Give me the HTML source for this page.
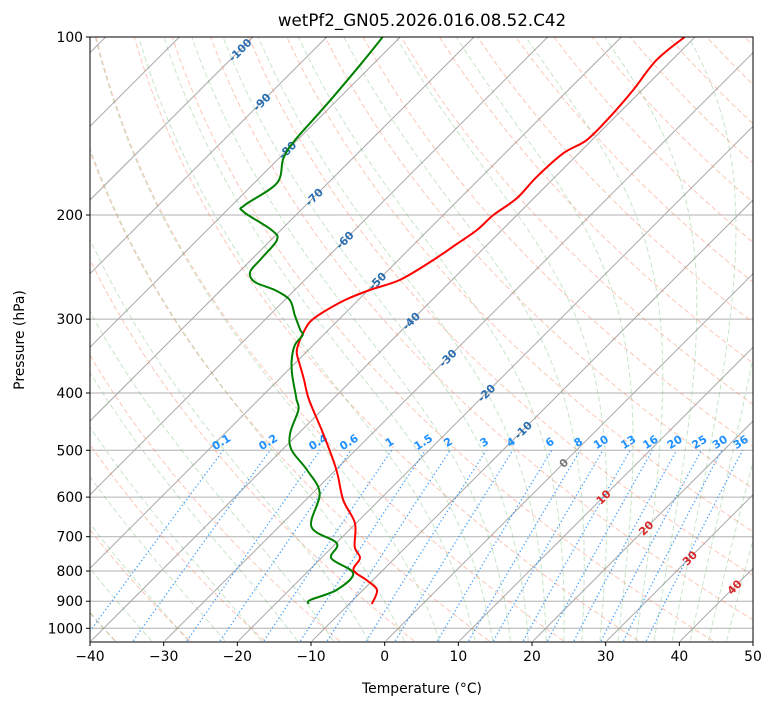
<!DOCTYPE html>
<html><head><meta charset="utf-8"><style>
body{margin:0;background:#fff;}
svg text{font-family:"DejaVu Sans","Liberation Sans",sans-serif;}
</style></head><body>
<svg id="chart" width="775" height="708" xmlns="http://www.w3.org/2000/svg">
<defs><clipPath id="plotclip"><rect x="90" y="37" width="663" height="605"/></clipPath></defs>
<text x="422" y="26" font-size="16.7" text-anchor="middle">wetPf2_GN05.2026.016.08.52.C42</text>
<g id="bg" clip-path="url(#plotclip)"></g>
<g id="fg"></g>
<text x="422" y="693" font-size="13.9" text-anchor="middle">Temperature (°C)</text>
<text transform="translate(24,340) rotate(-90)" font-size="13.9" text-anchor="middle">Pressure (hPa)</text>
</svg>
<script>
const tempPressure=[909.7,861.4,828.5,796.9,760.5,727.8,663.6,606.8,539.8,467.9,411.1,380.3,358.7,341.0,325.4,313.0,303.4,292.9,278.5,267.8,257.6,240.2,224.8,212.0,200.0,187.4,172.3,157.3,149.3,136.4,122.9,109.4,100];
const tempValues=[-6.9,-8.1,-10.9,-14.0,-14.75,-17.0,-20.2,-24.9,-29.9,-36.7,-43.1,-46.5,-49.1,-51.3,-52.5,-53.2,-53.6,-53.2,-51.8,-49.8,-47.1,-45.4,-44.3,-43.4,-43.2,-42.3,-42.5,-42.1,-40.7,-40.7,-41.2,-42.1,-41.4];
const dewPressure=[909.7,895.7,861.4,807.2,761.4,718.2,673.2,591.2,539.8,499.4,467.4,427.4,411.1,403.1,372.9,351.8,331.8,319.1,313.0,295.2,278.5,267.8,259.6,249.7,236.5,220.4,212.0,197.4,192.4,176.8,160.4,149.3,131.2,110.8,100];
const dewValues=[-15.5,-15.8,-13.6,-13.6,-18.6,-19.9,-25.6,-29.0,-33.9,-38.7,-41.2,-43.2,-44.8,-45.6,-48.8,-50.9,-52.5,-52.8,-53.8,-56.6,-59.3,-62.7,-66.5,-68.5,-68.8,-69.2,-71.3,-77.6,-78.3,-76.9,-79.4,-80.3,-80.8,-81.7,-82.4];
const xTicks=[-40,-30,-20,-10,0,10,20,30,40,50];
const yTicks=[100,200,300,400,500,600,700,800,900,1000];
const mixingRatios=[0.1,0.2,0.4,0.6,1,1.5,2,3,4,6,8,10,13,16,20,25,30,36];
const isothermLabels=[-100,-90,-80,-70,-60,-50,-40,-30,-20,-10,0,10,20,30,40];
const isothermLabelY=[50,102,150,197,240,281,321,358,393,430,463,497,528,558,587];

const NS="http://www.w3.org/2000/svg";
const L=90,R=753,TOP=37,BOT=642,TMIN=-40,PX=(R-L)/90,K=256.8;
function Y(p){return TOP+K*Math.log(p/100);}
function X(t,p){return L+(t-TMIN)*PX+(BOT-Y(p));}
function mk(tag,attrs,parent){const e=document.createElementNS(NS,tag);for(const k in attrs)e.setAttribute(k,attrs[k]);parent.appendChild(e);return e;}
const bg=document.getElementById('bg'),fg=document.getElementById('fg');
function pts(arrP,arrT){return arrP.map((p,i)=>X(arrT[i],p).toFixed(1)+','+Y(p).toFixed(1)).join(' ');}
function smoothPath(arrP,arrT){const P=arrP.map((p,i)=>[X(arrT[i],p),Y(p)]);let d='M'+P[0][0].toFixed(1)+','+P[0][1].toFixed(1);
for(let i=0;i<P.length-1;i++){const p0=P[i-1]||P[i],p1=P[i],p2=P[i+1],p3=P[i+2]||p2;
const c1=[p1[0]+(p2[0]-p0[0])/6,p1[1]+(p2[1]-p0[1])/6],c2=[p2[0]-(p3[0]-p1[0])/6,p2[1]-(p3[1]-p1[1])/6];
d+=' C'+c1[0].toFixed(1)+','+c1[1].toFixed(1)+' '+c2[0].toFixed(1)+','+c2[1].toFixed(1)+' '+p2[0].toFixed(1)+','+p2[1].toFixed(1);}return d;}
yTicks.forEach(p=>{const l=mk('line',{x1:L,x2:R,y1:Y(p),y2:Y(p),stroke:'#b0b0b0','stroke-width':1},bg);

});
for(let t=-130;t<=50;t+=10){const l=mk('line',{x1:X(t,1050),y1:Y(1050),x2:X(t,100),y2:Y(100),stroke:'#a8a8a8','stroke-width':1},bg);

}
for(let t0=-40;t0<=200;t0+=10){const th=t0+273.15;const P=[],T=[];for(let p=1050;p>=100;p-=10){P.push(p);T.push(th*Math.pow(p/1000,0.2857)-273.15);}
const l=mk('polyline',{points:pts(P,T),fill:'none',stroke:'#fa8060','stroke-opacity':0.45,'stroke-width':1,'stroke-dasharray':'5,3'},bg);

}
function es(tc){return 6.112*Math.exp(17.67*tc/(tc+243.5));}
function dTdp(T,p){const e=es(T-273.15);const rs=0.622*e/Math.max(p-e,1e-3);return (287.04*T+2.501e6*rs)/(1005.7+2.501e6*2.501e6*rs*0.622/(287.04*T*T))/p;}
function integ(T0,p0,p1,dp){const P=[p0],T=[T0];let T_=T0,p=p0;while((dp<0&&p>p1)||(dp>0&&p<p1)){const k1=dTdp(T_,p);const k2=dTdp(T_+k1*dp,p+dp);T_+=0.5*(k1+k2)*dp;p+=dp;P.push(p);T.push(T_);}return [P,T];}
const moistStarts=[];for(let t=-50;t<=10.01;t+=5)moistStarts.push(t);for(let t=12.5;t<=45.01;t+=2.5)moistStarts.push(t);
moistStarts.forEach(t0=>{const up=integ(t0+273.15,1000,100,-5),dn=integ(t0+273.15,1000,1050,5);
const P=dn[0].slice().reverse().concat(up[0].slice(1)),T=dn[1].slice().reverse().concat(up[1].slice(1)).map(v=>v-273.15);
const l=mk('polyline',{points:pts(P,T),fill:'none',stroke:'#4aa84a','stroke-opacity':0.3,'stroke-width':1,'stroke-dasharray':'5,3'},bg);

});
function tdFromW(w,p){const e=w*p/(622+w);const a=Math.log(e/6.112);return 243.5*a/(17.67-a);}
mixingRatios.forEach(w=>{const P=[],T=[];for(let p=1050;p>=500;p-=10){P.push(p);T.push(tdFromW(w,p));}
const l=mk('polyline',{points:pts(P,T),fill:'none',stroke:'#1e90ff','stroke-opacity':0.85,'stroke-width':1.3,'stroke-dasharray':'1.3,2.5'},bg);


const x=X(tdFromW(w,500),500),y=Y(500)-5;
const t=mk('text',{x:x,y:y,'font-size':11,'font-weight':'bold',fill:'#1e90ff','text-anchor':'middle',transform:`rotate(-32 ${x} ${y})`},bg);
t.textContent=String(w);

});
isothermLabels.forEach((tv,i)=>{const y=isothermLabelY[i];const p=100*Math.exp((y-TOP)/K);const x=X(tv,p);
const col=tv<0?'#2a6eb0':(tv===0?'#777':'#d62728');
const t=mk('text',{x:x,y:y+4,'font-size':11,'font-weight':'bold',fill:col,'text-anchor':'middle',transform:`rotate(-45 ${x} ${y})`},bg);
t.textContent=String(tv);

});
const tl=mk('path',{d:smoothPath(tempPressure,tempValues),fill:'none',stroke:'#ff0000','stroke-width':2,'stroke-linejoin':'round'},bg);


const dl=mk('path',{d:smoothPath(dewPressure,dewValues),fill:'none',stroke:'#008000','stroke-width':2,'stroke-linejoin':'round'},bg);


const fr=mk('rect',{x:L,y:TOP,width:R-L,height:BOT-TOP,fill:'none',stroke:'#000','stroke-width':1},fg);


xTicks.forEach(t=>{const x=L+(t-TMIN)*PX;mk('line',{x1:x,x2:x,y1:BOT,y2:BOT+4,stroke:'#000'},fg);
const tx=mk('text',{x:x,y:BOT+19,'font-size':13.9,'text-anchor':'middle'},fg);tx.textContent=(t<0?'\u2212'+(-t):String(t));

});
yTicks.forEach(p=>{const y=Y(p);mk('line',{x1:L-4,x2:L,y1:y,y2:y,stroke:'#000'},fg);
const tx=mk('text',{x:L-7,y:y+5,'font-size':13.9,'text-anchor':'end'},fg);tx.textContent=String(p);

});
</script>
</body></html>
